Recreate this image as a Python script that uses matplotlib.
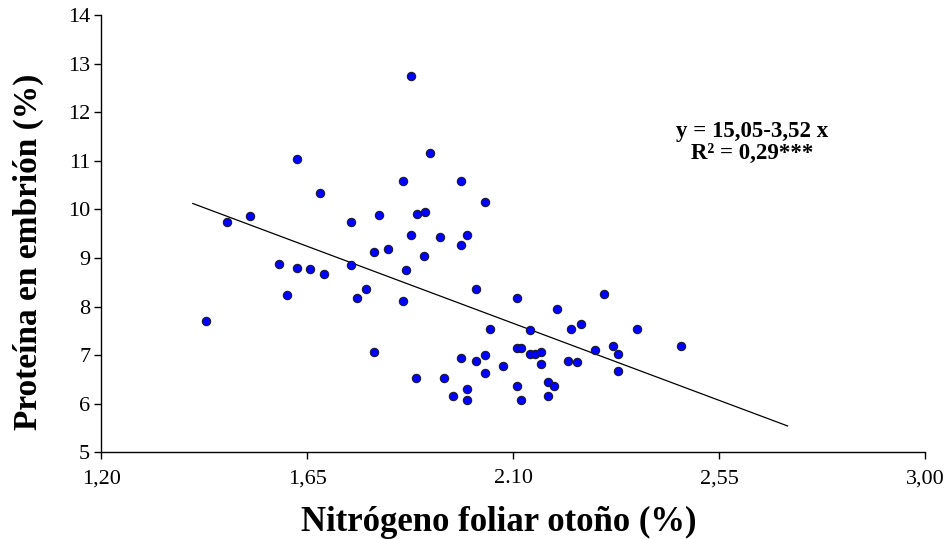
import numpy as np
import matplotlib.pyplot as plt

# Datos
nitrogeno = [1.877, 1.919, 1.627, 1.860, 1.987, 1.678, 1.475, 1.526, 1.746, 1.808,
             1.889, 1.907, 1.877, 1.940, 1.999, 1.987, 1.797, 1.826, 2.038,
             1.588, 1.627, 1.657, 1.686, 1.746, 1.906, 1.867, 1.607, 1.779, 1.758,
             1.859, 2.019, 1.428, 1.797, 1.987, 2.019, 1.888, 1.948, 1.999, 1.969,
             1.999, 2.108, 2.299, 2.197, 2.049, 2.138, 2.227, 2.248, 2.370, 2.108,
             2.117, 2.138, 2.147, 2.160, 2.278, 2.319, 2.329, 2.468, 2.038, 2.038,
             2.079, 2.160, 2.219, 2.239, 2.329, 2.108, 2.117, 2.177, 2.189, 2.177]
proteina = [12.74, 11.17, 11.04, 10.58, 10.58, 10.34, 9.75, 9.86, 9.75, 9.88,
            9.91, 9.94, 9.47, 9.44, 9.47, 9.27, 9.13, 9.19, 10.16,
            8.87, 8.79, 8.77, 8.68, 8.85, 9.05, 8.76, 8.23, 8.37, 8.18,
            8.12, 8.37, 7.70, 7.06, 6.95, 6.89, 6.53, 6.53, 6.30, 6.17,
            6.08, 8.18, 8.26, 7.96, 7.54, 7.51, 7.54, 7.65, 7.54, 7.14,
            7.14, 7.03, 7.03, 7.06, 7.11, 7.20, 7.03, 7.20, 7.00, 6.64,
            6.78, 6.83, 6.89, 6.86, 6.67, 6.36, 6.08, 6.44, 6.36, 6.17]

# Recta de regresion
a, b = 15.05, -3.52
x_recta = np.array([1.40, 2.70])
y_recta = a + b * x_recta

x_ticks = [1.20, 1.65, 2.10, 2.55, 3.00]
x_etiquetas = ['1,20', '1,65', '2.10', '2,55', '3,00']
y_ticks = list(range(5, 15))

plt.rcParams['font.family'] = ['Liberation Serif', 'DejaVu Serif']

fig = plt.figure(figsize=(9.51, 5.39), dpi=100)
ax = fig.add_axes([0.1065, 0.1605, 0.866, 0.8117])

ax.plot(x_recta, y_recta, color='black', linewidth=0.9, zorder=1)
ax.scatter(nitrogeno, proteina, s=36, c='#0000ff', edgecolors='#1a1a2e',
           linewidths=0.8, zorder=2)

ax.set_xlim(1.20, 3.00)
ax.set_ylim(5, 14)
ax.set_xticks(x_ticks)
ax.set_xticklabels(x_etiquetas)
ax.set_yticks(y_ticks)
ax.tick_params(axis='both', labelsize=16, direction='out', length=5, width=1, color='black')
ax.tick_params(axis='x', pad=7)
ax.tick_params(axis='y', pad=3)
ax.spines['top'].set_visible(False)
ax.spines['right'].set_visible(False)
for s in ['left', 'bottom']:
    ax.spines[s].set_linewidth(1)

fig.text(0.5247, 0.0148, 'Nitrógeno foliar otoño (%)', fontsize=25, fontweight='bold',
         ha='center', va='baseline')
fig.text(0.030, 0.532, 'Proteína en embrión (%)', fontsize=24, fontweight='bold',
         ha='center', va='center', rotation=90)

ax.text(2.622, 11.61, 'y = 15,05-3,52 x', fontsize=16.5, fontweight='bold', ha='center', va='center')
ax.text(2.622, 11.15, 'R² = 0,29***', fontsize=16.5, fontweight='bold', ha='center', va='center')

plt.savefig('out.png', dpi=100)
